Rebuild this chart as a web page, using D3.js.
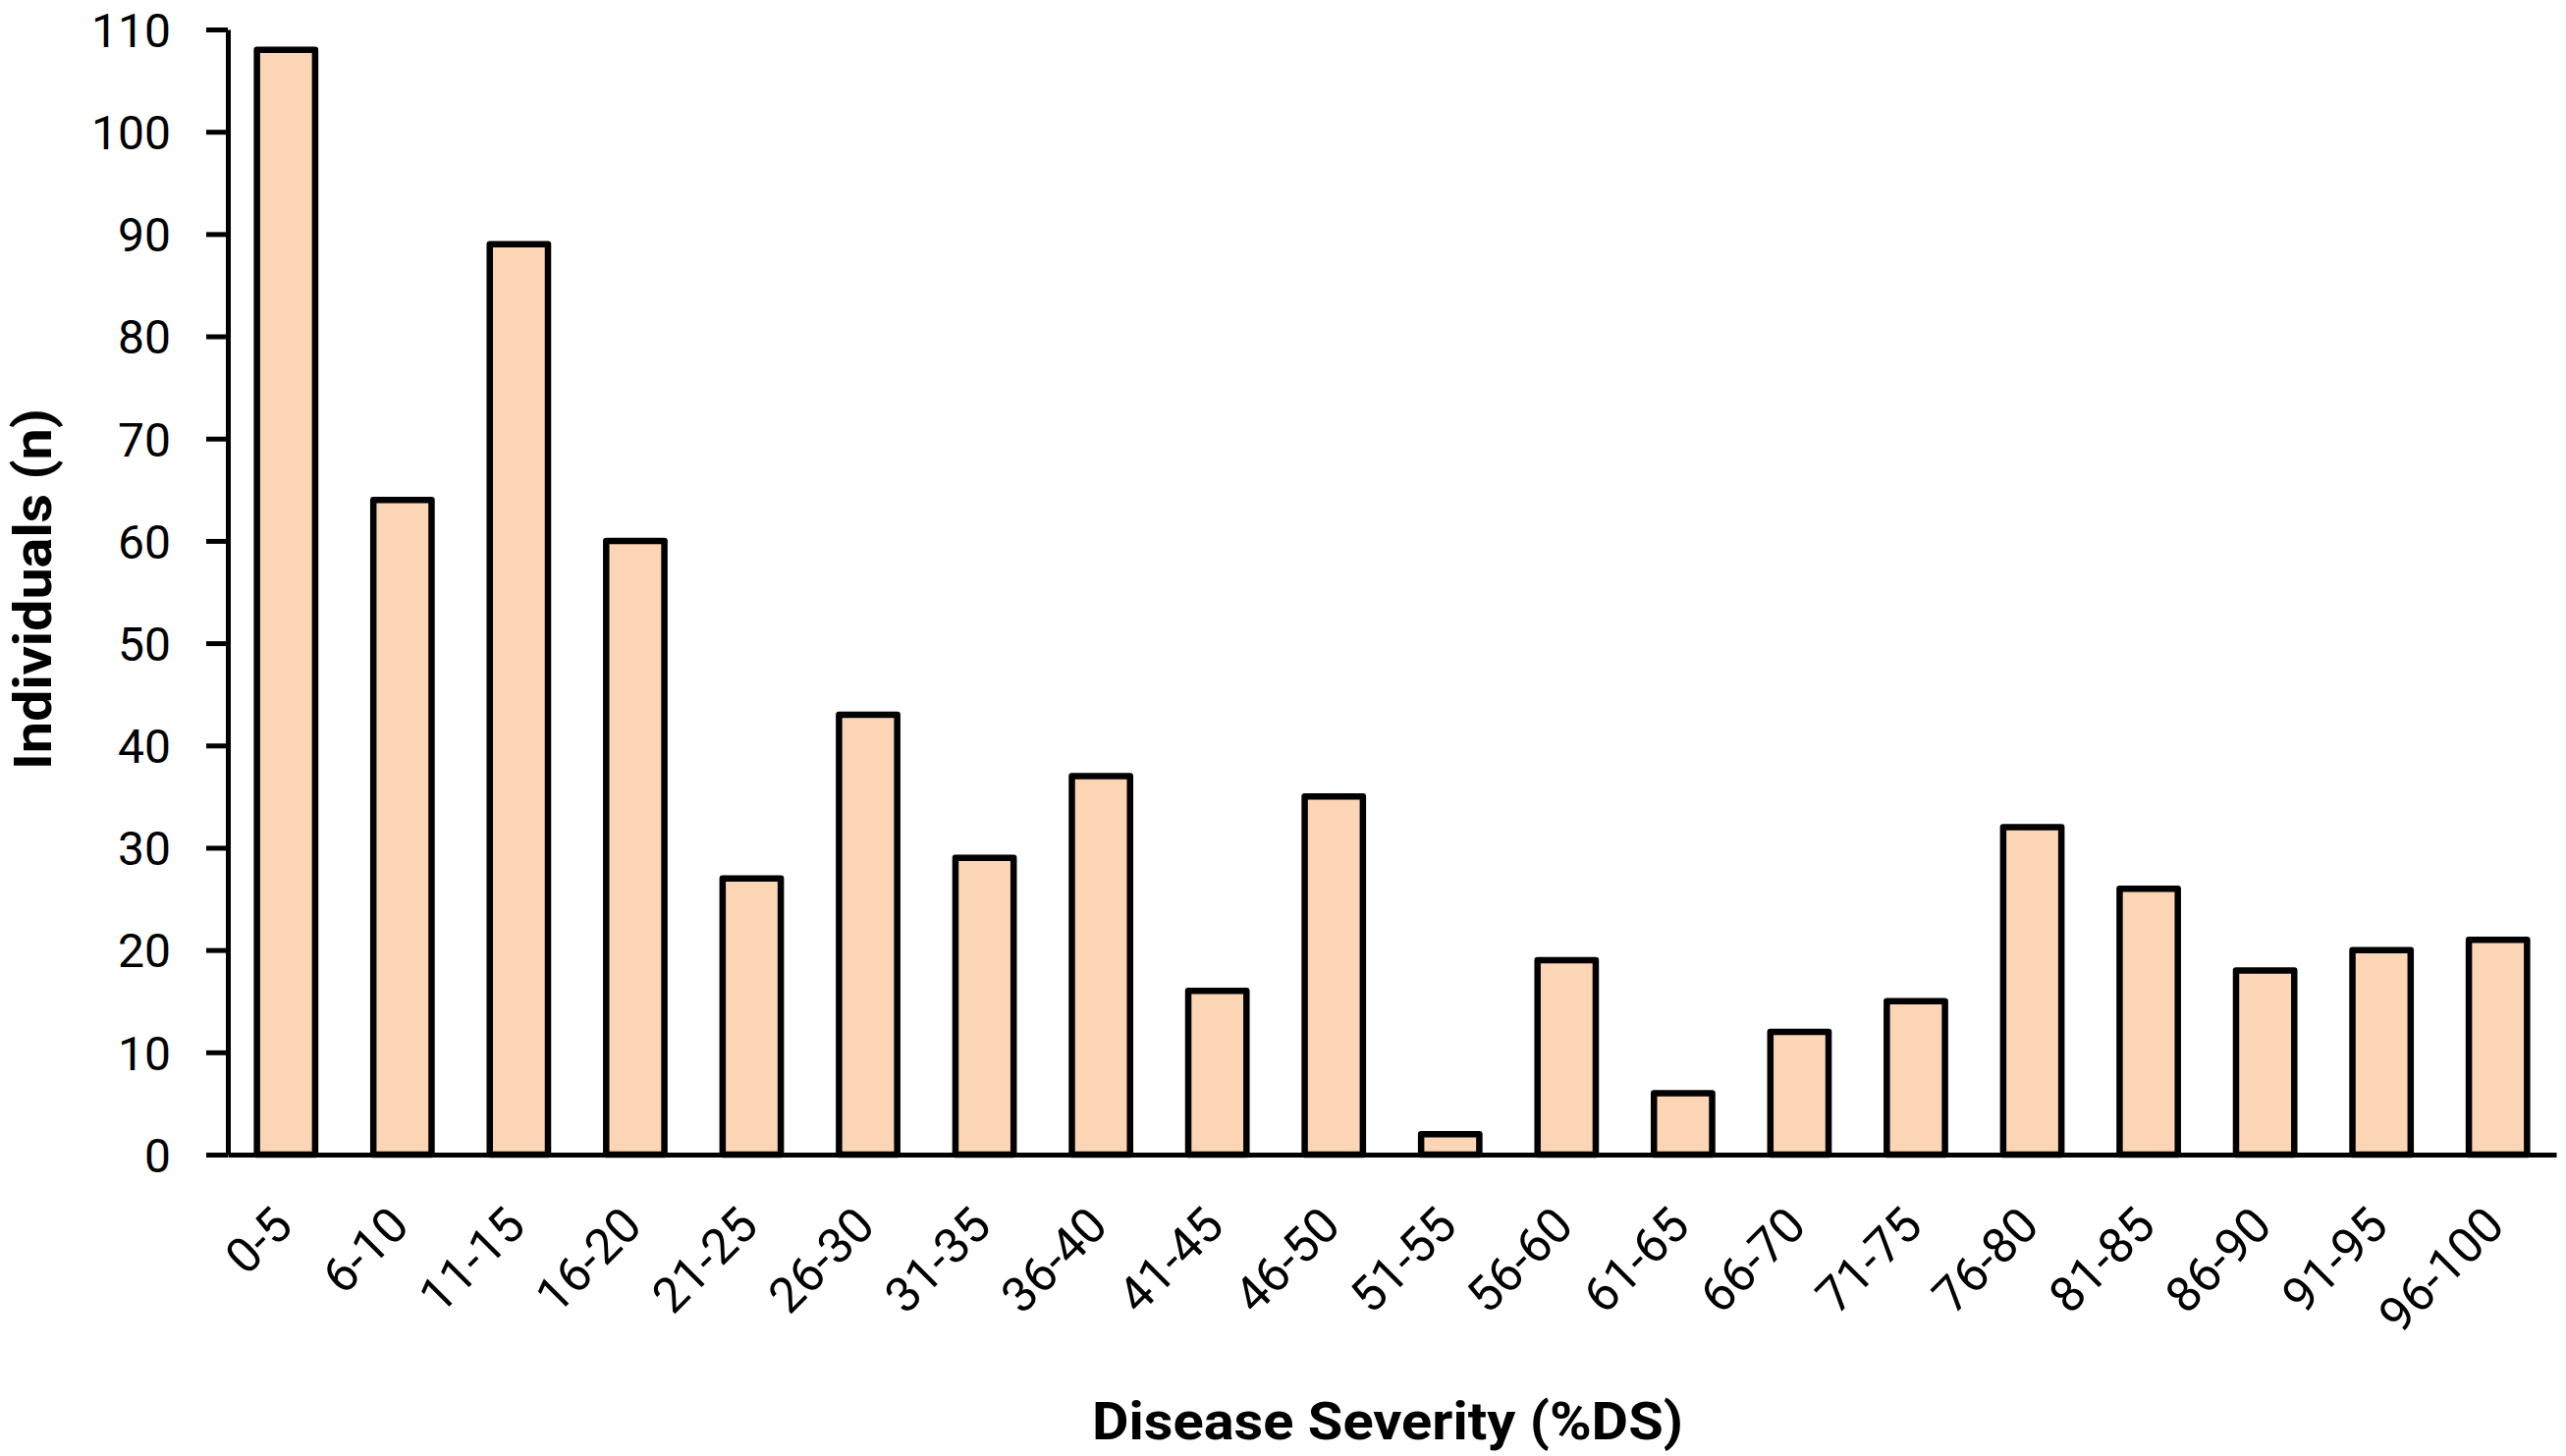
<!doctype html>
<html lang="en">
<head>
<meta charset="UTF-8">
<title>Disease Severity</title>
<script src="https://d3js.org/d3.v7.min.js"></script>
<style>
  body { margin: 0; background: #fff; }
  text { font-family: Roboto, "Open Sans", sans-serif; fill: #000; }
</style>
</head>
<body>
<div id="chart"></div>
<script>
// severity classes and counts
var categories = ["0-5", "6-10", "11-15", "16-20", "21-25", "26-30", "31-35", "36-40", "41-45", "46-50",
                  "51-55", "56-60", "61-65", "66-70", "71-75", "76-80", "81-85", "86-90", "91-95", "96-100"];
var counts = [108, 64, 89, 60, 27, 43, 29, 37, 16, 35, 2, 19, 6, 12, 15, 32, 26, 18, 20, 21];
var yTicks = [0, 10, 20, 30, 40, 50, 60, 70, 80, 90, 100, 110];

var width = 2613, height = 1483;
var margin = {top: 30, right: 10, bottom: 307, left: 232};

var svg = d3.select("#chart")
    .append("svg")
    .attr("width", width)
    .attr("height", height);

var x = d3.scaleBand()
    .domain(categories)
    .range([margin.left, width - margin.right])
    .paddingInner(0.5)
    .paddingOuter(0.25);

var y = d3.scaleLinear()
    .domain([0, 110])
    .range([height - margin.bottom, margin.top]);

// bars
svg.append("g")
    .selectAll("rect")
    .data(counts)
    .enter()
    .append("rect")
    .attr("x", function(d, i) { return x(categories[i]); })
    .attr("y", function(d) { return y(d); })
    .attr("width", x.bandwidth())
    .attr("height", function(d) { return y(0) - y(d); })
    .attr("fill", "#FCD5B5")
    .attr("stroke", "#000")
    .attr("stroke-width", 6.5)
    .attr("stroke-linejoin", "round");

// y axis
var yAxis = svg.append("g")
    .attr("transform", "translate(" + margin.left + ",0)")
    .call(d3.axisLeft(y).tickValues(yTicks).tickSize(22).tickSizeOuter(0).tickPadding(36));
yAxis.selectAll("path, line").attr("stroke", "#000").attr("stroke-width", 5);
yAxis.selectAll("text")
    .attr("font-size", "48px")
    .attr("font-family", "Roboto")
    .attr("dy", "0.36em");

// x axis
var xAxis = svg.append("g")
    .attr("transform", "translate(0," + y(0) + ")")
    .call(d3.axisBottom(x).tickSize(0).tickSizeOuter(0));
xAxis.select(".domain").attr("stroke", "#000").attr("stroke-width", 5);
xAxis.selectAll("text")
    .attr("font-size", "50px")
    .attr("font-family", "Roboto")
    .attr("text-anchor", "end")
    .attr("dy", null)
    .attr("y", 0)
    .attr("transform", "translate(9,75) rotate(-45)");

// axis titles
svg.append("text")
    .attr("x", 1413)
    .attr("y", 1466)
    .attr("text-anchor", "middle")
    .attr("font-size", "54px")
    .attr("font-weight", "bold")
    .attr("textLength", 602)
    .attr("lengthAdjust", "spacingAndGlyphs")
    .text("Disease Severity (%DS)");

svg.append("text")
    .attr("transform", "translate(52,600) rotate(-90)")
    .attr("text-anchor", "middle")
    .attr("font-size", "54px")
    .attr("font-weight", "bold")
    .attr("textLength", 368)
    .attr("lengthAdjust", "spacingAndGlyphs")
    .text("Individuals (n)");
</script>
</body>
</html>
